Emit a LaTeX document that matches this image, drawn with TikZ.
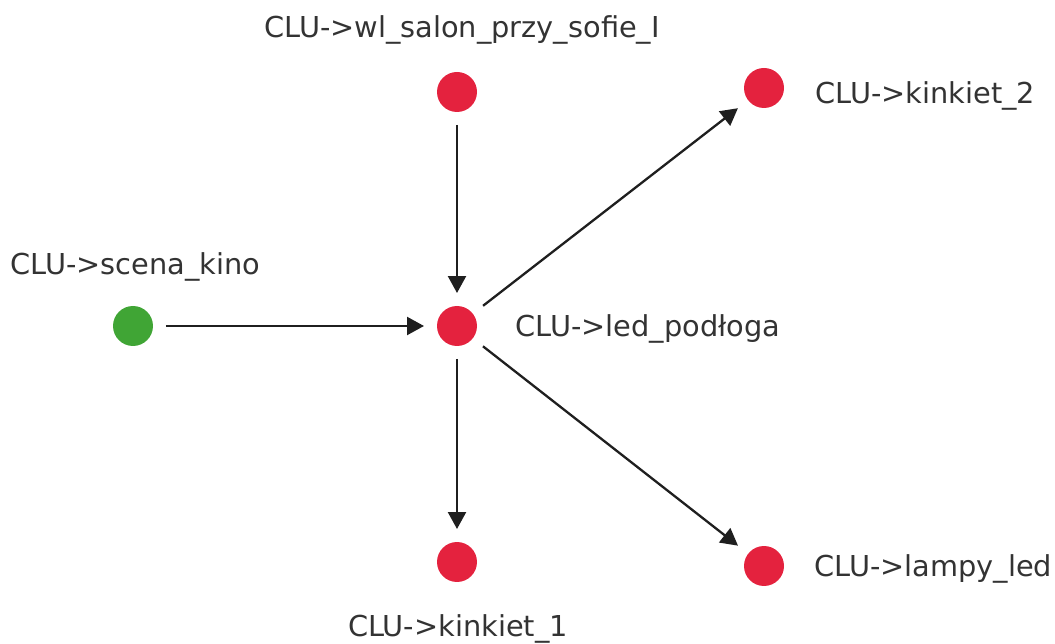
\documentclass[tikz,border=0pt]{standalone}
\usepackage{fontspec}
\setmainfont{DejaVu Sans}
\usetikzlibrary{arrows.meta,positioning}

\definecolor{vred}{HTML}{E4223E}
\definecolor{vgreen}{HTML}{40A535}
\definecolor{ltext}{HTML}{333333}

\begin{document}
\begin{tikzpicture}[x=0.02cm,y=-0.02cm,
  vtx/.style={circle,fill=vred,minimum size=0.8cm,inner sep=0pt,outer sep=0.26cm},
  lbl/.style={text=ltext,font=\fontsize{16.4}{18}\selectfont,inner sep=0pt},
  link/.style={-{Triangle[length=0.34cm,width=0.36cm]},line width=0.046cm,draw=black!88}]
  \useasboundingbox (0,0) rectangle (1055,644);
  % vertices
  \node[vtx] (V1) at (457,92) {};
  \node[vtx] (V2) at (764,88) {};
  \node[vtx,fill=vgreen] (V3) at (133,326) {};
  \node[vtx] (V4) at (457,326) {};
  \node[vtx] (V5) at (457,562) {};
  \node[vtx] (V6) at (764,566) {};
  % labels
  \node[lbl,anchor=base] (L1) at (462,38) {CLU->wl\_salon\_przy\_sofie\_I};
  \node[lbl,anchor=base west] (L2) at (815,104) {CLU->kinkiet\_2};
  \node[lbl,anchor=base west] (L3) at (10,275) {CLU->scena\_kino};
  \node[lbl,anchor=base west] (L4) at (515,337) {CLU->led\_podłoga};
  \node[lbl,anchor=base west] (L6) at (814,577) {CLU->lampy\_led};
  \node[lbl,anchor=base] (L5) at (458,637) {CLU->kinkiet\_1};
  % edges
  \draw[link] (V1) -- (V4);
  \draw[link] (V3) -- (V4);
  \draw[link] (V4) -- (V2);
  \draw[link] (V4) -- (V5);
  \draw[link] (V4) -- (V6);
\end{tikzpicture}
\end{document}
